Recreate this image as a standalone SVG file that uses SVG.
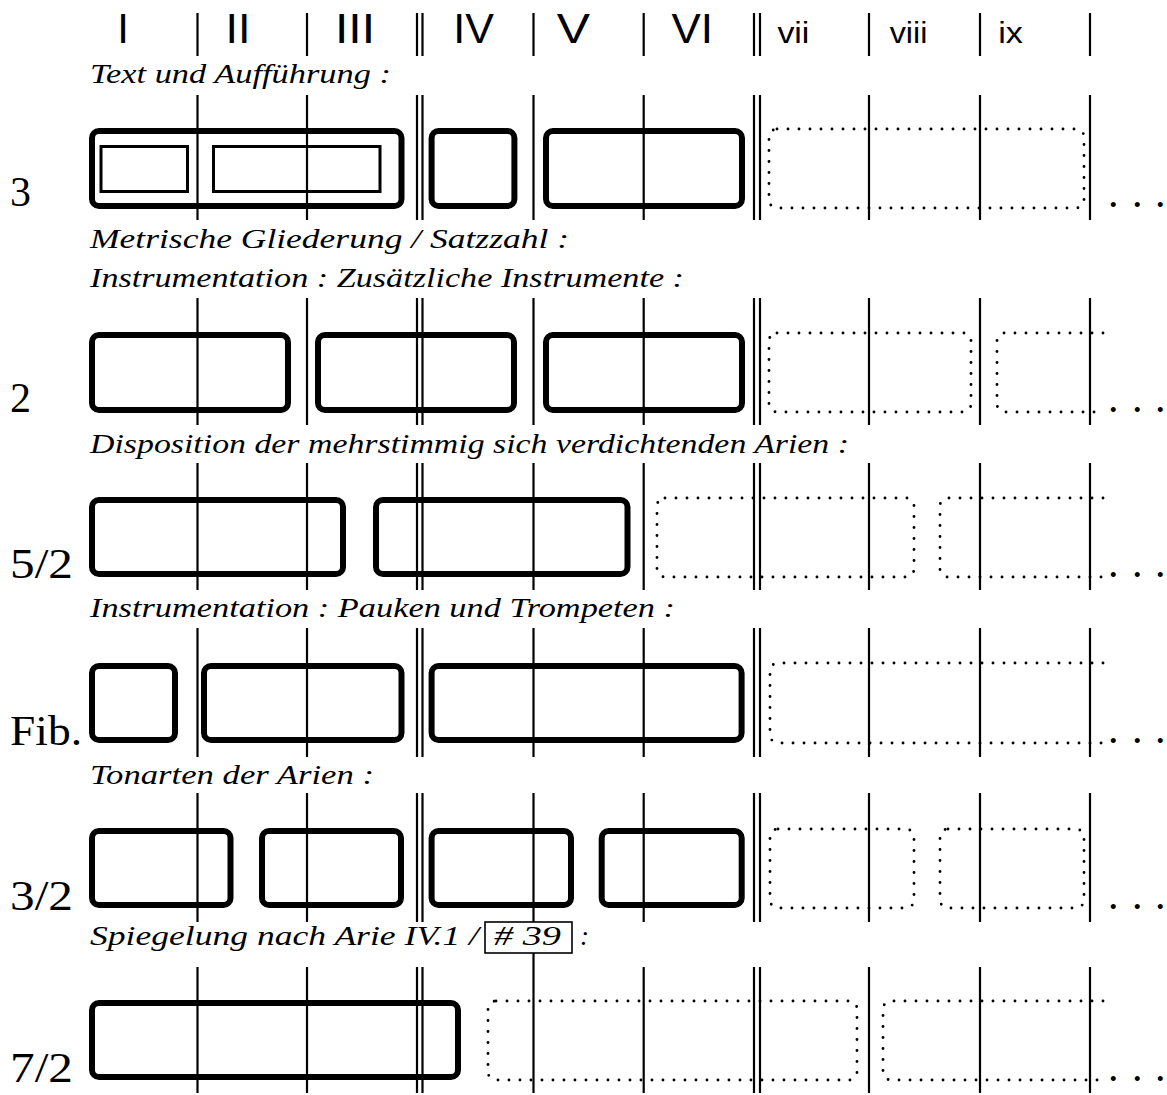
<svg xmlns="http://www.w3.org/2000/svg" width="1167" height="1095" viewBox="0 0 1167 1095">
<style>
.vl{stroke:#000;stroke-width:2.2}
.box{fill:none;stroke:#000;stroke-width:6}
.inner{fill:none;stroke:#000;stroke-width:3}
.dot{fill:none;stroke:#000;stroke-width:2.9;stroke-linecap:round;stroke-dasharray:0 11}
.hd{font-family:"Liberation Sans",Arial,sans-serif;font-size:42px;text-anchor:middle}
.hs{font-family:"Liberation Sans",Arial,sans-serif;font-size:29px;text-anchor:middle}
.it{font-family:"Liberation Serif","Times New Roman",serif;font-style:italic;font-size:27px}
.lb{font-family:"Liberation Serif","Times New Roman",serif;font-size:42px}
.dd{font-family:"Liberation Serif","Times New Roman",serif;font-size:42px}
</style>
<rect width="1167" height="1095" fill="#fff"/>
<g id="connectors">
<path class="vl" d="M197.5 13V56M307 13V56M417 13V56M422.5 13V56M533.5 13V56M643.7 13V56M754 13V56M760 13V56M869 13V56M980 13V56M1090 13V56"/>
<path class="vl" d="M197.5 95V220M307 95V220M417 95V220M422.5 95V220M533.5 95V220M643.7 95V220M754 95V220M760 95V220M869 95V220M980 95V220M1090 95V220"/>
<path class="vl" d="M197.5 298V425M307 298V425M417 298V425M422.5 298V425M533.5 298V425M643.7 298V425M754 298V425M760 298V425M869 298V425M980 298V425M1090 298V425"/>
<path class="vl" d="M197.5 463V590M307 463V590M417 463V590M422.5 463V590M533.5 463V590M643.7 463V590M754 463V590M760 463V590M869 463V590M980 463V590M1090 463V590"/>
<path class="vl" d="M197.5 628V757M307 628V757M417 628V757M422.5 628V757M533.5 628V757M643.7 628V757M754 628V757M760 628V757M869 628V757M980 628V757M1090 628V757"/>
<path class="vl" d="M197.5 793V922M307 793V922M417 793V922M422.5 793V922M533.5 793V922M643.7 793V922M754 793V922M760 793V922M869 793V922M980 793V922M1090 793V922"/>
<path class="vl" d="M197.5 967V1093M307 967V1093M417 967V1093M422.5 967V1093M533.5 952V1093M643.7 967V1093M754 967V1093M760 967V1093M869 967V1093M980 967V1093M1090 967V1093"/>
</g>
<g id="header">
<text class="hd" x="123" y="43">I</text>
<text class="hd" x="238" y="43" textLength="25" lengthAdjust="spacingAndGlyphs">II</text>
<text class="hd" x="355" y="43" textLength="40" lengthAdjust="spacingAndGlyphs">III</text>
<text class="hd" x="473.6" y="43" textLength="40.6" lengthAdjust="spacingAndGlyphs">IV</text>
<text class="hd" x="573.5" y="43" textLength="33.3" lengthAdjust="spacingAndGlyphs">V</text>
<text class="hd" x="692.3" y="43" textLength="41.5" lengthAdjust="spacingAndGlyphs">VI</text>
<text class="hs" x="793.4" y="43" textLength="32" lengthAdjust="spacingAndGlyphs">vii</text>
<text class="hs" x="908.5" y="43" textLength="37.7" lengthAdjust="spacingAndGlyphs">viii</text>
<text class="hs" x="1010.5" y="43" textLength="24.7" lengthAdjust="spacingAndGlyphs">ix</text>
</g>
<g id="captions">
<text class="it" x="90" y="83" textLength="301" lengthAdjust="spacingAndGlyphs">Text und Aufführung :</text>
<text class="it" x="90" y="248" textLength="479" lengthAdjust="spacingAndGlyphs">Metrische Gliederung / Satzzahl :</text>
<text class="it" x="90" y="287" textLength="594" lengthAdjust="spacingAndGlyphs">Instrumentation : Zusätzliche Instrumente :</text>
<text class="it" x="90" y="453" textLength="759" lengthAdjust="spacingAndGlyphs">Disposition der mehrstimmig sich verdichtenden Arien :</text>
<text class="it" x="90" y="617" textLength="585" lengthAdjust="spacingAndGlyphs">Instrumentation : Pauken und Trompeten :</text>
<text class="it" x="90" y="784" textLength="284" lengthAdjust="spacingAndGlyphs">Tonarten der Arien :</text>
<g id="cap-spiegelung">
<text class="it" x="90" y="945" textLength="389" lengthAdjust="spacingAndGlyphs">Spiegelung nach Arie IV.1 /</text>
<rect x="485" y="922" width="87" height="31" fill="#fff" stroke="#000" stroke-width="1.6"/>
<text class="it" x="494" y="945" textLength="67" lengthAdjust="spacingAndGlyphs"># 39</text>
<text class="it" x="580" y="945">:</text>
</g>
</g>
<g id="labels">
<text class="lb" x="10" y="206">3</text>
<text class="lb" x="10" y="412">2</text>
<text class="lb" x="10" y="578" textLength="63" lengthAdjust="spacingAndGlyphs">5/2</text>
<text class="lb" x="10" y="745" textLength="72" lengthAdjust="spacingAndGlyphs">Fib.</text>
<text class="lb" x="10" y="910" textLength="63" lengthAdjust="spacingAndGlyphs">3/2</text>
<text class="lb" x="10" y="1082" textLength="63" lengthAdjust="spacingAndGlyphs">7/2</text>
</g>
<g id="row1">
<g id="r1-a"><rect class="box" x="92" y="131" width="309.5" height="75" rx="7"/>
<rect class="inner" x="101" y="146.5" width="86.5" height="45"/>
<rect class="inner" x="213.5" y="146.5" width="166.5" height="45"/></g>
<g id="r1-b"><rect class="box" x="431.6" y="131" width="82.8" height="75" rx="7"/></g>
<g id="r1-c"><rect class="box" x="546" y="131" width="196" height="75" rx="7"/></g>
<g id="r1-d"><rect class="dot" x="769" y="129" width="315" height="79" rx="8"/></g>
<text class="dd" x="1108 1132 1155" y="207">...</text>
</g>
<g id="row2">
<g id="r2-a"><rect class="box" x="92" y="335" width="196" height="75" rx="7"/></g>
<g id="r2-b"><rect class="box" x="318" y="335" width="196" height="75" rx="7"/></g>
<g id="r2-c"><rect class="box" x="546" y="335" width="196" height="75" rx="7"/></g>
<g id="r2-d"><rect class="dot" x="769" y="333" width="202" height="79" rx="8"/></g>
<g id="r2-e"><path class="dot" d="M1103 333H1005A8 8 0 0 0 997 341V404A8 8 0 0 0 1005 412H1103"/></g>
<text class="dd" x="1108 1132 1155" y="412">...</text>
</g>
<g id="row3">
<g id="r3-a"><rect class="box" x="92" y="500" width="251" height="74" rx="7"/></g>
<g id="r3-b"><rect class="box" x="376" y="500" width="251.5" height="74" rx="7"/></g>
<g id="r3-c"><rect class="dot" x="657" y="498" width="257" height="79" rx="8"/></g>
<g id="r3-d"><path class="dot" d="M1103 498H948A8 8 0 0 0 940 506V569A8 8 0 0 0 948 577H1103"/></g>
<text class="dd" x="1108 1132 1155" y="577">...</text>
</g>
<g id="row4">
<g id="r4-a"><rect class="box" x="92" y="666" width="83" height="74" rx="7"/></g>
<g id="r4-b"><rect class="box" x="204" y="666" width="197.5" height="74" rx="7"/></g>
<g id="r4-c"><rect class="box" x="431.6" y="666" width="310" height="74" rx="7"/></g>
<g id="r4-d"><path class="dot" d="M1103 663H778A8 8 0 0 0 770 671V735A8 8 0 0 0 778 743H1103"/></g>
<text class="dd" x="1108 1132 1155" y="743">...</text>
</g>
<g id="row5">
<g id="r5-a"><rect class="box" x="92" y="831" width="138.5" height="74" rx="7"/></g>
<g id="r5-b"><rect class="box" x="262" y="831" width="139" height="74" rx="7"/></g>
<g id="r5-c"><rect class="box" x="431.6" y="831" width="139.4" height="74" rx="7"/></g>
<g id="r5-d"><rect class="box" x="601.7" y="831" width="140" height="74" rx="7"/></g>
<g id="r5-e"><rect class="dot" x="770" y="829" width="144" height="79" rx="8"/></g>
<g id="r5-f"><rect class="dot" x="940" y="829" width="144" height="79" rx="8"/></g>
<text class="dd" x="1108 1132 1155" y="909">...</text>
</g>
<g id="row6">
<g id="r6-a"><rect class="box" x="92" y="1003" width="366" height="74" rx="7"/></g>
<g id="r6-b"><rect class="dot" x="488" y="1001" width="369" height="79" rx="8"/></g>
<g id="r6-c"><path class="dot" d="M1103 1001H891A8 8 0 0 0 883 1009V1072A8 8 0 0 0 891 1080H1103"/></g>
<text class="dd" x="1108 1132 1155" y="1081">...</text>
</g>
</svg>
